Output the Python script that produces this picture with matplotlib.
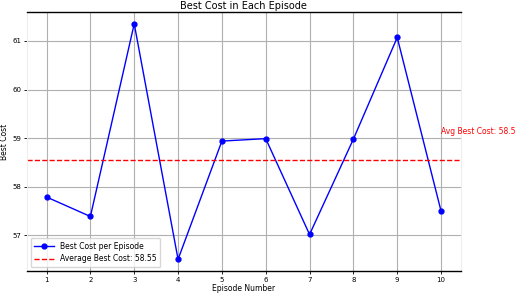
import matplotlib
matplotlib.use('Agg')
import matplotlib.pyplot as plt

# Best cost found in each episode
episodes = [1, 2, 3, 4, 5, 6, 7, 8, 9, 10]
best_costs = [57.79, 57.39, 61.35, 56.51, 58.94, 58.99, 57.02, 58.98, 61.07, 57.50]

avg_cost = sum(best_costs) / len(best_costs)

fig = plt.figure(figsize=(5.16, 2.94), dpi=100)
ax = fig.add_axes([0.052, 0.078, 0.841, 0.881])

ax.plot(episodes, best_costs, marker='o', color='blue', linewidth=1.0,
        markersize=3.5, label='Best Cost per Episode')
ax.axhline(avg_cost, color='red', linestyle='--', linewidth=1.0,
           label='Average Best Cost: {:.2f}'.format(avg_cost))
ax.text(10, avg_cost + 0.5, 'Avg Best Cost: {:.2f}'.format(avg_cost),
        color='red', fontsize=5.5, va='bottom', ha='left', clip_on=False)

ax.set_title('Best Cost in Each Episode', fontsize=7, pad=2)
ax.set_xlabel('Episode Number', fontsize=5.5, labelpad=1)
ax.set_ylabel('Best Cost', fontsize=5.5, labelpad=2)
ax.set_xticks(episodes)
ax.tick_params(labelsize=5, length=2, width=0.6, pad=2)
ax.grid(True, color='#b0b0b0', linewidth=0.8)

for side in ['left', 'right']:
    ax.spines[side].set_color('#eeeeee')
for side in ['top', 'bottom']:
    ax.spines[side].set_linewidth(1.0)

ax.legend(loc='lower left', fontsize=5.5, framealpha=0.8, borderpad=0.5,
          handlelength=2.5)

fig.savefig('out.png', dpi=100)
